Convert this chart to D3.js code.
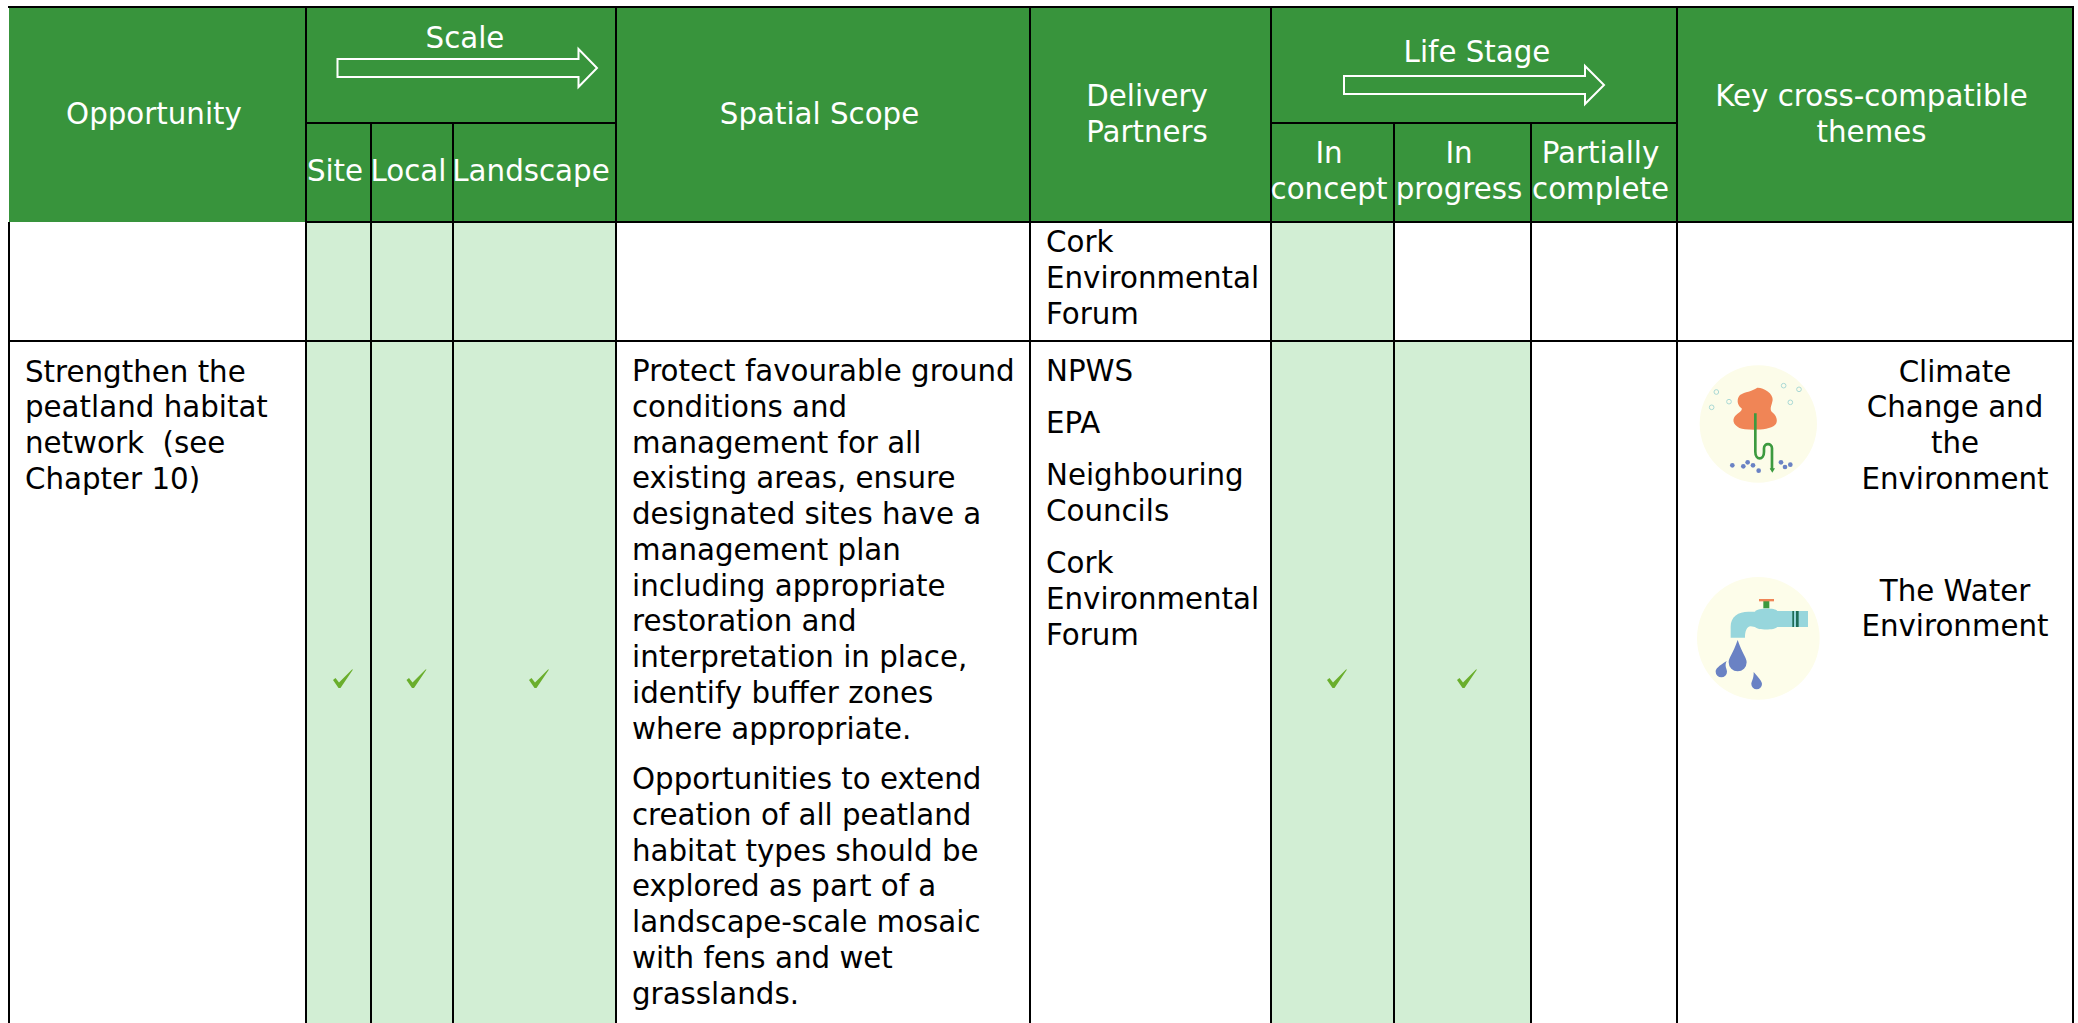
<!DOCTYPE html>
<html>
<head>
<meta charset="utf-8">
<title>Opportunity table</title>
<script src="https://d3js.org/d3.v7.min.js"></script>
<style>
  body { margin: 0; background: #fff; }
  text { font-family: "DejaVu Sans", Verdana, sans-serif; font-size: 29.3px; white-space: pre; }
</style>
</head>
<body>
<script>
// column and row names
var columns = ["opportunity", "site", "local", "landscape", "scope", "partners", "concept", "progress", "partial", "themes"];
var rows = ["head1", "head2", "first", "peatland"];

// which cells are ticked / shaded
var shadedFirst = ["site", "local", "landscape", "concept"];
var shadedPeatland = ["site", "local", "landscape", "concept", "progress"];
var ticked = ["site", "local", "landscape", "concept", "progress"];

// cell text
var headSingle = [
  { col: "opportunity", lines: ["Opportunity"], y: [124] },
  { col: "scope", lines: ["Spatial Scope"], y: [124] },
  { col: "partners", lines: ["Delivery", "Partners"], y: [106, 142] },
  { col: "themes", lines: ["Key cross-compatible", "themes"], y: [106, 142] }
];
var headSub = [
  { col: "site", lines: ["Site"], y: [181] },
  { col: "local", lines: ["Local"], y: [181] },
  { col: "landscape", lines: ["Landscape"], y: [181] },
  { col: "concept", lines: ["In", "concept"], y: [163, 199] },
  { col: "progress", lines: ["In", "progress"], y: [163, 199] },
  { col: "partial", lines: ["Partially", "complete"], y: [163, 199] }
];
var opportunityLines = ["Strengthen the", "peatland habitat", "network  (see", "Chapter 10)"];
var scopeLines1 = ["Protect favourable ground", "conditions and", "management for all", "existing areas, ensure", "designated sites have a", "management plan", "including appropriate", "restoration and", "interpretation in place,", "identify buffer zones", "where appropriate."];
var scopeLines2 = ["Opportunities to extend", "creation of all peatland", "habitat types should be", "explored as part of a", "landscape-scale mosaic", "with fens and wet", "grasslands."];
var corkLines = ["Cork", "Environmental", "Forum"];
var theme1 = ["Climate", "Change and", "the", "Environment"];
var theme2 = ["The Water", "Environment"];

var w = 2078, h = 1023;
var green = "#38943c", pale = "#d2eed4", tickCol = "#6aae2c";

// layout
var colEdges = [9, 306, 371, 453, 616, 1030, 1271, 1394, 1531, 1677, 2073];
var rowEdges = [7, 123, 222, 341, 1023];
var x = d3.scaleOrdinal().domain(columns).range(colEdges.slice(0, -1));
var xEnd = d3.scaleOrdinal().domain(columns).range(colEdges.slice(1));
var y = d3.scaleOrdinal().domain(rows).range(rowEdges.slice(0, -1));
function mid(c) { return (x(c) + xEnd(c)) / 2; }
var right = colEdges[colEdges.length - 1];

var svg = d3.select("body").append("svg").attr("width", w).attr("height", h).style("display", "block");

// header background
svg.append("rect").attr("x", 9).attr("y", 7).attr("width", right - 9).attr("height", 215).attr("fill", green);

// shaded cells
svg.selectAll("rect.a").data(shadedFirst).enter().append("rect").attr("class", "a")
  .attr("x", function(d) { return x(d); }).attr("y", y("first"))
  .attr("width", function(d) { return xEnd(d) - x(d); })
  .attr("height", y("peatland") - y("first")).attr("fill", pale);
svg.selectAll("rect.b").data(shadedPeatland).enter().append("rect").attr("class", "b")
  .attr("x", function(d) { return x(d); }).attr("y", y("peatland"))
  .attr("width", function(d) { return xEnd(d) - x(d); })
  .attr("height", h - y("peatland")).attr("fill", pale);

// grid lines
function line(x1, y1, x2, y2, sw) {
  svg.append("line").attr("x1", x1).attr("y1", y1).attr("x2", x2).attr("y2", y2)
    .attr("stroke", "#000").attr("stroke-width", sw || 2);
}
line(8, 7, right + 1, 7, 2);
line(306, 222, right + 1, 222, 2);
line(9, 341, right + 1, 341, 2);
line(9, 222, 9, h, 2);
line(right, 7, right, h, 2);
line(306, 123, 616, 123, 2);
line(x("concept"), 123, x("themes"), 123, 2);
["site", "scope", "partners", "concept", "themes"].forEach(function(c) { line(x(c), 7, x(c), h); });
["local", "landscape", "progress", "partial"].forEach(function(c) { line(x(c), 123, x(c), h); });

// header text
function head(d) {
  d.lines.forEach(function(t, i) {
    svg.append("text").attr("x", mid(d.col) - 3.5).attr("y", d.y[i]).attr("text-anchor", "middle").attr("fill", "#fff").text(t);
  });
}
headSingle.forEach(head);
headSub.forEach(head);
svg.append("text").attr("x", 465).attr("y", 48).attr("text-anchor", "middle").attr("fill", "#fff").text("Scale");
svg.append("text").attr("x", 1477).attr("y", 62).attr("text-anchor", "middle").attr("fill", "#fff").text("Life Stage");

// header arrows
function arrow(x0, x1, xh, yc) {
  var p = d3.path();
  p.moveTo(x0, yc - 9); p.lineTo(xh, yc - 9); p.lineTo(xh, yc - 19); p.lineTo(x1, yc);
  p.lineTo(xh, yc + 19); p.lineTo(xh, yc + 9); p.lineTo(x0, yc + 9); p.closePath();
  svg.append("path").attr("d", p.toString()).attr("fill", "none").attr("stroke", "#fff").attr("stroke-width", 2);
}
arrow(337.5, 597, 578.5, 68);
arrow(1344, 1604, 1585, 85);

// body text
function block(lines, xp, y0, anchor) {
  lines.forEach(function(t, i) {
    svg.append("text").attr("x", xp).attr("y", y0 + i * 35.75).attr("text-anchor", anchor || "start").attr("fill", "#000").text(t);
  });
}
block(corkLines, 1046, 252);
block(opportunityLines, 25, 381.5);
block(scopeLines1, 632, 381);
block(scopeLines2, 632, 789);
block(["NPWS"], 1046, 381);
block(["EPA"], 1046, 433);
block(["Neighbouring", "Councils"], 1046, 485);
block(corkLines, 1046, 573);
block(theme1, 1955, 381.5, "middle");
block(theme2, 1955, 600.5, "middle");

// tick marks
var tickShape = [[-10, 1], [-7.5, -1], [-4, 3.5], [9, -9.5], [10, -9.5], [-2.5, 9], [-4.5, 9]];
ticked.forEach(function(c) {
  svg.append("path")
    .attr("transform", "translate(" + (mid(c) + 4.5) + ",679)")
    .attr("d", d3.line()(tickShape) + "Z")
    .attr("fill", tickCol);
});

// climate icon
var ic1 = svg.append("g").attr("transform", "translate(1680,350) scale(0.3333)");
ic1.append("circle").attr("cx", 235).attr("cy", 222).attr("r", 176).attr("fill", "#fcfce9");
var bubbles = [[109, 126], [147, 155], [95, 172], [311, 107], [357, 118], [331, 157]];
ic1.selectAll("circle.b").data(bubbles).enter().append("circle").attr("class", "b")
  .attr("cx", function(d) { return d[0]; }).attr("cy", function(d) { return d[1]; }).attr("r", 7)
  .attr("fill", "none").attr("stroke", "#a9d8d4").attr("stroke-width", 3);
ic1.append("path").attr("d", "M232,113C250,112 280,130 278,150C276,165 268,175 275,185C290,195 296,215 285,225C270,240 225,240 195,238C170,235 155,218 162,203C170,190 188,185 185,175C170,165 170,145 180,135C195,125 215,125 232,113Z").attr("fill", "#f08556");
ic1.append("path").attr("d", "M226,190L226,305C226,332 252,332 252,305L252,295C252,278 276,278 276,295L276,360").attr("fill", "none").attr("stroke", "#3c9a3f").attr("stroke-width", 8);
ic1.append("path").attr("d", "M269,355L285,355L277,368Z").attr("fill", "#3c9a3f");
var dots = [[157, 346], [190, 349], [203, 337], [219, 346], [236, 362], [303, 337], [315, 351], [331, 344]];
ic1.selectAll("circle.d").data(dots).enter().append("circle").attr("class", "d")
  .attr("cx", function(d) { return d[0]; }).attr("cy", function(d) { return d[1]; }).attr("r", 7).attr("fill", "#6a82c4");

// water icon
var ic2 = svg.append("g").attr("transform", "translate(1680,565) scale(0.3333)");
ic2.append("circle").attr("cx", 235).attr("cy", 220).attr("r", 184).attr("fill", "#fdfdea");
ic2.append("rect").attr("x", 250).attr("y", 108).attr("width", 18).attr("height", 22).attr("fill", "#3c9a3f");
ic2.append("rect").attr("x", 237).attr("y", 102).attr("width", 45).attr("height", 7).attr("fill", "#f08556");
ic2.append("path").attr("d", "M152,218L152,185C152,155 175,140 205,140L225,140C232,128 285,128 292,138L384,138L384,186L292,186C285,196 232,196 225,186L212,184C200,184 195,200 195,218Z").attr("fill", "#97d6dc");
ic2.append("rect").attr("x", 337).attr("y", 138).attr("width", 5).attr("height", 48).attr("fill", "#1d6b55");
ic2.append("rect").attr("x", 348).attr("y", 138).attr("width", 8).attr("height", 48).attr("fill", "#1d6b55");
function drop(cx, cy, r, tipx, tipy) {
  ic2.append("path").attr("d", "M" + tipx + "," + tipy + "C" + (cx + r * 0.5) + "," + (cy - r) + " " + (cx + r) + "," + (cy - r * 0.5) + " " + (cx + r) + "," + cy + "A" + r + "," + r + " 0 1 1 " + (cx - r) + "," + cy + "C" + (cx - r) + "," + (cy - r * 0.5) + " " + (cx - r * 0.5) + "," + (cy - r) + " " + tipx + "," + tipy + "Z").attr("fill", "#6a82c4");
}
drop(173, 292, 27, 173, 225);
drop(124, 320, 17, 140, 288);
drop(230, 357, 16, 221, 321);
</script>
</body>
</html>
